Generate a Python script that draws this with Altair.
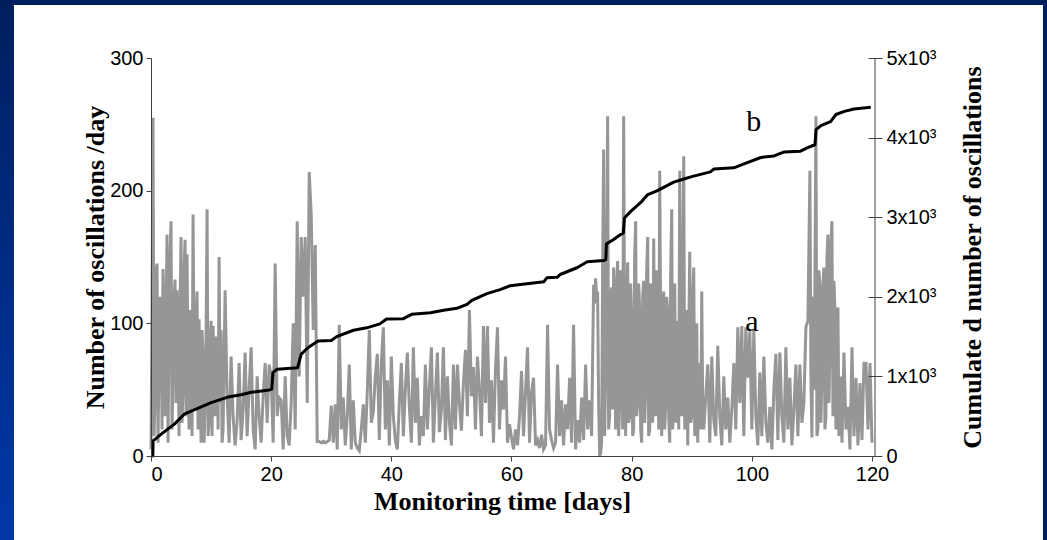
import altair as alt
import pandas as pd

# ---------------- data: series a (oscillations per day), read in segments ----------------
# each segment: start day, sampling step (days), values
a_seg1_start, a_seg1_step = 0, 1 / 6
a_seg1 = [5, 110, 255, 15, 40, 140, 145, 10, 70, 120, 115, 20, 141, 110, 30, 100, 167, 10,
          90, 150, 177, 20, 60, 118, 133, 40, 125, 80, 15, 110, 165, 25, 50, 140, 163, 30,
          152, 60, 20, 110, 98, 15, 182, 70, 35, 100, 124, 20, 103, 60, 10, 95, 75, 10,
          40, 90, 186, 15, 25, 80, 102, 15, 98, 60, 30, 90, 85, 20, 150, 40, 95, 10]

a_seg2_start, a_seg2_step = 12, 1 / 3
a_seg2 = [20, 125, 45, 10, 75, 30, 8, 26, 70, 12, 35, 78, 15, 50, 82, 20, 5, 60, 30, 10, 45, 70, 25, 69,
          60, 10, 145, 30, 44, 42, 5, 60, 15, 8, 40, 100, 20, 177, 60, 165, 120, 165, 40, 214, 182, 95, 159, 11, 11, 10, 11, 10, 11, 12,
          38, 10, 39, 5, 99, 20, 44, 8, 30, 69, 5, 42, 10, 6, 4, 20, 39, 10, 49, 95, 25, 33, 60, 77, 12, 70, 97, 20, 57, 8,
          75, 30, 12, 5, 40, 70, 15, 50, 78, 37, 10, 82, 25, 59, 8, 30, 15, 69, 20, 52, 82, 10, 45, 78, 18, 35, 82, 12, 60, 25,
          8, 69, 20, 69, 40, 19, 55, 80, 30, 110, 45, 67, 20, 75, 50, 15, 98, 40, 98, 25, 57, 10, 65, 97, 20, 57, 35, 75, 10, 24,
          14, 5, 20, 8, 30, 64, 15, 48, 82, 10, 48, 59, 8, 12, 6, 16, 5, 8, 99, 20, 12, 6, 10, 69, 15, 42, 8, 39, 20, 59,
          10, 99, 5, 27, 10, 44, 12, 69, 20, 42, 15]

a_seg3_start, a_seg3_step = 73 + 2 / 3, 1 / 6
a_seg3 = [129, 115,
          134, 120, 124, 40, 0, 2,
          10, 140, 231, 15, 60, 145,
          256, 20, 30, 120, 127, 35,
          142, 90, 20, 130, 147, 15,
          40, 140, 100, 20, 256, 80,
          15, 110, 146, 25, 30, 130,
          102, 15, 20, 150, 177, 30,
          40, 130, 110, 20, 10, 120,
          132, 25, 50, 140, 165, 15,
          20, 130, 90, 25, 164, 60,
          30, 140, 120, 20, 215, 90,
          15, 110, 124, 20, 40, 120,
          109, 30, 10, 140, 186, 20,
          60, 130, 25, 90, 102, 20,
          215, 60, 30, 140, 226, 20,
          50, 110, 8, 90, 154, 25,
          30, 120, 142, 15, 39, 100,
          10, 70, 60, 20, 124, 30]

a_seg4_start, a_seg4_step = 92, 1 / 3
a_seg4 = [20, 45, 69, 10, 75, 27, 15, 83, 30, 8, 60, 20, 44, 10, 35, 70, 20, 97, 40, 98, 15, 97, 59, 94,
          20, 95, 30, 8, 63, 15, 75, 25, 10, 37, 5, 50, 77, 12, 78, 30, 10, 82, 20, 59, 8, 35, 69, 15, 69, 25, 40, 97, 102]

a_seg5_start, a_seg5_step = 109 + 2 / 3, 1 / 6
a_seg5 = [215, 60, 14, 120, 50, 130, 256, 15, 20, 140, 127, 25, 60, 130, 142, 20,
          30, 150, 167, 40, 80, 160, 177, 30, 132, 110, 20, 100, 112, 15, 32, 60]

a_seg6_start, a_seg6_step = 115, 1 / 3
a_seg6 = [10, 78, 20, 37, 5, 82, 15, 59, 8, 55, 12, 70, 70, 20, 70, 10]

# ---------------- data: series b (cumulated number) ----------------
b_days = [0, 0.3, 0.35, 1.7, 3.0, 3.9, 5.6, 6.9, 10, 12.8, 15, 16.7, 19.7, 20.1, 20.3, 21, 24.4, 25,
          26.1, 27.8, 30, 30.9, 33.7, 35.9, 38.1, 39.2, 42, 43.4, 46.5, 48.7, 50.9, 52.6, 53.4, 55.9,
          58.1, 59.8, 61.5, 65.4, 65.9, 67.6, 68.1, 70.9, 72.6, 75.4, 75.7, 75.8, 77, 78.1, 78.6, 78.8,
          79.8, 81.7, 82.6, 84.2, 87, 88.7, 90, 93.1, 93.7, 97, 98.7, 101.5, 103.7, 105.4, 108.1,
          109.2, 110.5, 110.7, 111.5, 113.1, 114, 115.4, 117, 119.8]
b_cum = [0, 0, 190, 275, 350, 400, 530, 570, 670, 740, 770, 800, 830, 840, 1050, 1090, 1110, 1280,
         1360, 1445, 1450, 1500, 1580, 1610, 1660, 1720, 1725, 1780, 1800, 1830, 1855, 1905, 1955, 2040,
         2090, 2140, 2155, 2190, 2240, 2245, 2280, 2365, 2440, 2455, 2470, 2665, 2720, 2780, 2800, 2990,
         3070, 3200, 3280, 3330, 3440, 3480, 3510, 3570, 3605, 3620, 3670, 3750, 3770, 3820, 3830,
         3870, 3910, 4100, 4150, 4200, 4290, 4330, 4360, 4380]

x_ticks = [0, 20, 40, 60, 80, 100, 120]
left_ticks = [0, 100, 200, 300]
right_ticks = [0, 1000, 2000, 3000, 4000, 5000]

label_text = ["a", "b"]
label_day = [100, 100.3]
label_val = [101, 252]

# ---------------- tables ----------------
segments = [(a_seg1_start, a_seg1_step, a_seg1), (a_seg2_start, a_seg2_step, a_seg2),
            (a_seg3_start, a_seg3_step, a_seg3), (a_seg4_start, a_seg4_step, a_seg4),
            (a_seg5_start, a_seg5_step, a_seg5), (a_seg6_start, a_seg6_step, a_seg6)]
a_days, a_vals = [], []
for start, step, vals in segments:
    for i, v in enumerate(vals):
        a_days.append(start + i * step)
        a_vals.append(v)

df_a = pd.DataFrame({"day": a_days, "count": a_vals, "order": range(len(a_vals))})
df_b = pd.DataFrame({"day": b_days, "cum": b_cum})
df_lbl = pd.DataFrame({"day": label_day, "val": label_val, "txt": label_text})
dummy = pd.DataFrame({"k": [0]})

# ---------------- layout ----------------
W, H = 724, 398
PAD_L, PAD_T = 151, 58

xscale = alt.Scale(domain=[0, 120.5], nice=False, zero=False)
yscale_l = alt.Scale(domain=[0, 300], nice=False)
yscale_r = alt.Scale(domain=[0, 5000], nice=False)

common = dict(labelFont="Liberation Sans", labelFontSize=20, labelColor="black",
              titleFont="Liberation Serif", titleFontSize=26, titleFontWeight="bold",
              titleColor="black", domainColor="#404040", tickColor="#404040",
              domainWidth=1, tickWidth=1, grid=False, zindex=1)

x_axis = alt.Axis(values=x_ticks, tickSize=5, labelPadding=3, title="Monitoring time [days]",
                  titleX=351, titleY=45, titleBaseline="middle", titleAlign="center", **common)
left_axis = alt.Axis(orient="left", values=left_ticks, tickSize=5, labelPadding=3,
                     title="Number of oscillations /day", titleAngle=270, titleX=-56, titleY=H / 2,
                     titleBaseline="middle", titleAlign="center", **common)
right_axis = alt.Axis(orient="right", values=right_ticks, tickSize=14, offset=-7, domain=False,
                      labelPadding=4,
                      labelExpr="datum.value == 0 ? '0' : (datum.value / 1000) + 'x10\u00b3'",
                      title="Cumulate d number of oscillations", titleAngle=270, titleX=104,
                      titleY=H / 2, titleBaseline="middle", titleAlign="center", **common)

grad = alt.LinearGradient(gradient="linear",
                          stops=[alt.GradientStop(color="#001f5e", offset=0),
                                 alt.GradientStop(color="#0038aa", offset=1)],
                          x1=0, x2=0, y1=0, y2=1)

left_strip = alt.Chart(dummy).mark_rect(color=grad).encode(
    x=alt.value(-PAD_L), x2=alt.value(14 - PAD_L), y=alt.value(-PAD_T), y2=alt.value(540 - PAD_T))
panel = alt.Chart(dummy).mark_rect(color="white").encode(
    x=alt.value(14 - PAD_L), x2=alt.value(1043 - PAD_L), y=alt.value(5 - PAD_T), y2=alt.value(540 - PAD_T))
right_domain = alt.Chart(dummy).mark_rule(color="#404040", strokeWidth=1).encode(
    x=alt.value(W), y=alt.value(0), y2=alt.value(H))

X = alt.X("day:Q", scale=xscale, axis=x_axis)

line_a = alt.Chart(df_a).mark_line(color="#969696", strokeWidth=3).encode(
    x=X,
    y=alt.Y("count:Q", scale=yscale_l, axis=left_axis),
    order="order:Q",
)
labels = alt.Chart(df_lbl).mark_text(font="Liberation Serif", fontSize=30, color="black",
                                     baseline="middle", align="center").encode(
    x=X,
    y=alt.Y("val:Q", scale=yscale_l, axis=left_axis),
    text="txt:N",
)
line_b = alt.Chart(df_b).mark_line(color="black", strokeWidth=3, strokeJoin="round").encode(
    x=X,
    y=alt.Y("cum:Q", scale=yscale_r, axis=right_axis),
)

inner = alt.layer(left_strip, panel, line_a, labels, right_domain)
chart = alt.layer(inner, line_b).resolve_scale(y="independent").properties(
    width=W, height=H,
    padding={"left": PAD_L, "top": PAD_T, "right": 1047 - PAD_L - W, "bottom": 540 - PAD_T - H},
    autosize="none",
    background="#001f5e",
).configure_view(stroke=None)

chart.save("out.html", embed_options={"renderer": "svg", "actions": False})
